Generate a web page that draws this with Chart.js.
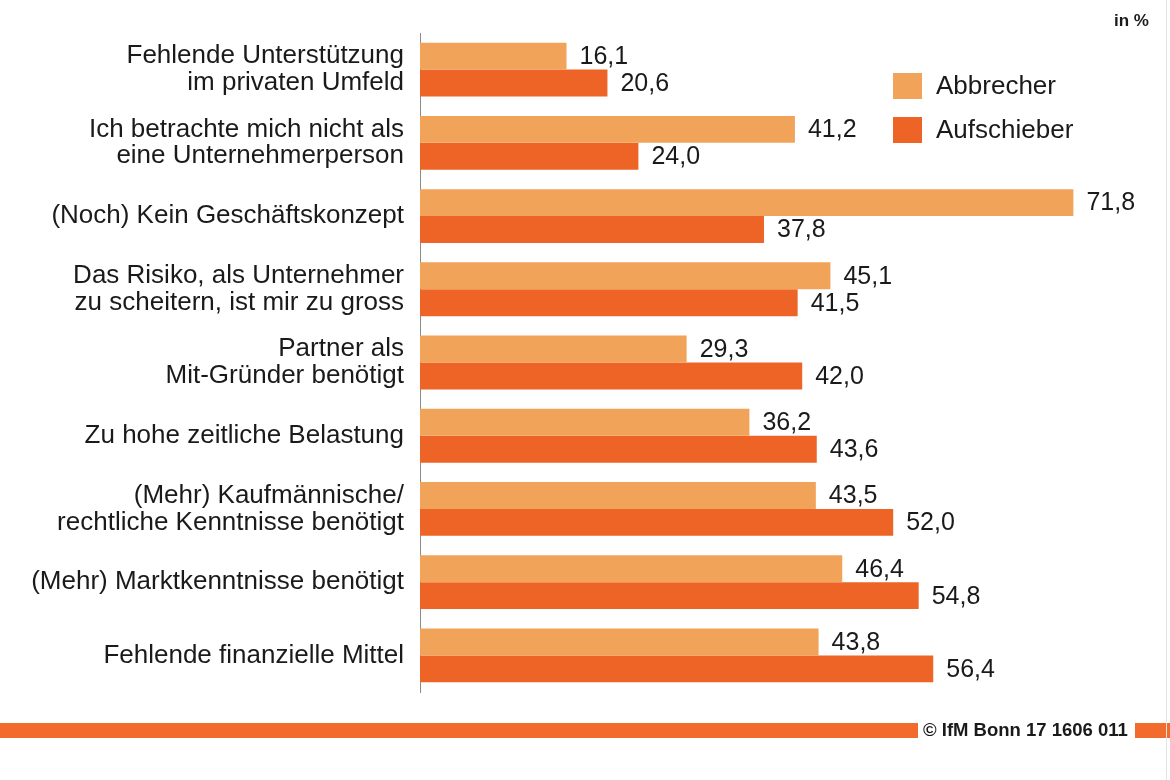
<!DOCTYPE html>
<html>
<head>
<meta charset="utf-8">
<script src="https://cdn.jsdelivr.net/npm/chart.js@4.4.1/dist/chart.umd.min.js"></script>
<style>
  html, body { margin: 0; padding: 0; background: #ffffff; }
  #wrap { width: 1170px; height: 780px; position: relative; }
</style>
</head>
<body>
<div id="wrap"><canvas id="c" width="1170" height="780"></canvas></div>
<script>
const categories = [
  ["Fehlende Unterstützung", "im privaten Umfeld"],
  ["Ich betrachte mich nicht als", "eine Unternehmerperson"],
  "(Noch) Kein Geschäftskonzept",
  ["Das Risiko, als Unternehmer", "zu scheitern, ist mir zu gross"],
  ["Partner als", "Mit-Gründer benötigt"],
  "Zu hohe zeitliche Belastung",
  ["(Mehr) Kaufmännische/", "rechtliche Kenntnisse benötigt"],
  "(Mehr) Marktkenntnisse benötigt",
  "Fehlende finanzielle Mittel"
];
const seriesNames = ["Abbrecher", "Aufschieber"];
const abbrecher   = [16.1, 41.2, 71.8, 45.1, 29.3, 36.2, 43.5, 46.4, 43.8];
const aufschieber = [20.6, 24.0, 37.8, 41.5, 42.0, 43.6, 52.0, 54.8, 56.4];
const unitLabel = "in %";
const sourceLabel = "© IfM Bonn 17 1606 011";

const COLORS = ["#F2A35A", "#EE6426"];
const FONT = "'Liberation Sans', Arial, sans-serif";

const fmt = v => v.toFixed(1).replace('.', ',');

const decorPlugin = {
  id: 'decor',
  afterDatasetsDraw(chart) {
    const ctx = chart.ctx;
    ctx.save();
    // value labels
    ctx.font = "25px " + FONT;
    ctx.fillStyle = "#1a1a1a";
    ctx.textAlign = "left";
    ctx.textBaseline = "middle";
    chart.data.datasets.forEach((ds, di) => {
      const meta = chart.getDatasetMeta(di);
      meta.data.forEach((bar, i) => {
        ctx.fillText(fmt(ds.data[i]), bar.x + 13, bar.y + 1);
      });
    });
    // legend
    const lx = 893, ly = [73, 117];
    chart.data.datasets.forEach((ds, di) => {
      ctx.fillStyle = ds.backgroundColor;
      ctx.fillRect(lx, ly[di], 29, 26);
      ctx.fillStyle = "#1a1a1a";
      ctx.font = "26px " + FONT;
      ctx.textBaseline = "middle";
      ctx.fillText(ds.label, 936, ly[di] + 14);
    });
    // unit label
    ctx.font = "bold 17px " + FONT;
    ctx.textAlign = "left";
    ctx.fillText(unitLabel, 1114, 21);
    // footer
    ctx.fillStyle = "#F36B2C";
    ctx.fillRect(0, 723, 918, 15);
    ctx.fillRect(1135, 723, 35, 15);
    ctx.fillStyle = "#1a1a1a";
    ctx.font = "bold 18.5px " + FONT;
    ctx.fillText(sourceLabel, 923, 731);
    // right border
    ctx.strokeStyle = "#e4e4e4";
    ctx.lineWidth = 1;
    ctx.beginPath();
    ctx.moveTo(1166.5, 0);
    ctx.lineTo(1166.5, 780);
    ctx.stroke();
    ctx.restore();
  }
};

new Chart(document.getElementById('c'), {
  type: 'bar',
  data: {
    labels: categories,
    datasets: [
      { label: seriesNames[0], data: abbrecher, backgroundColor: COLORS[0] },
      { label: seriesNames[1], data: aufschieber, backgroundColor: COLORS[1] }
    ]
  },
  options: {
    indexAxis: 'y',
    responsive: false,
    animation: false,
    devicePixelRatio: 1,
    categoryPercentage: 0.735,
    barPercentage: 1.0,
    layout: { padding: { left: 0, right: 22, top: 33, bottom: 88 } },
    plugins: {
      legend: { display: false },
      tooltip: { enabled: false }
    },
    scales: {
      x: {
        display: false,
        min: 0,
        max: 80
      },
      y: {
        afterFit(scale) { scale.width = 420; },
        grid: { display: true, color: 'rgba(0,0,0,0)', drawTicks: false },
        border: { display: true, color: '#8a8a8a', width: 1 },
        ticks: {
          padding: 16,
          color: '#1a1a1a',
          font: { family: FONT, size: 26, lineHeight: 1.03 }
        }
      }
    }
  },
  plugins: [decorPlugin]
});
</script>
</body>
</html>
